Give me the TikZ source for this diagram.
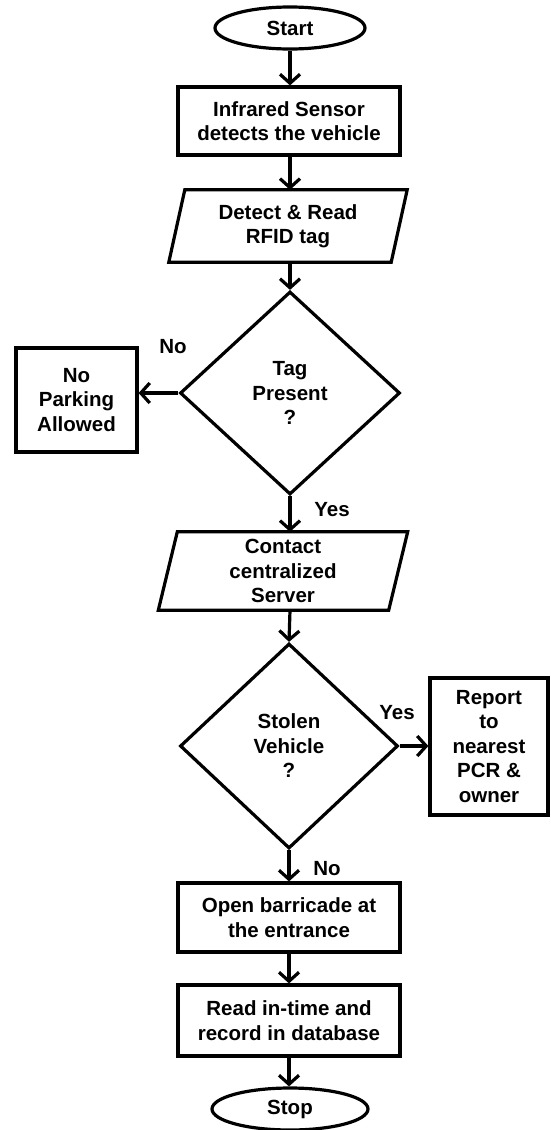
\documentclass[tikz,border=0pt]{standalone}
\usepackage{fontspec}
\setmainfont{Liberation Sans}
\usetikzlibrary{arrows.meta,shapes.geometric}
\begin{document}
\begin{tikzpicture}[x=1pt,y=-1pt,
  every node/.style={font=\bfseries\fontsize{20.5}{24.5}\selectfont, align=center, inner sep=0pt},
  lw/.style={line width=3.2pt},
  procbox/.style={draw, lw, rectangle, minimum width=#1},
  termbox/.style={draw, lw, ellipse, minimum height=42pt},
  decbox/.style={draw, lw, diamond},
  iobox/.style={rectangle, minimum width=#1},
  arr/.style={lw, -{Straight Barb[length=9pt,width=20pt,line width=3.2pt]}},
  lbl/.style={}
]
\useasboundingbox (0,0) rectangle (551,1130);

\node[termbox, minimum width=150pt] (start) at (290,28) {Start};
\node[procbox=222pt, minimum height=68pt] (sensor) at (289,121) {Infrared Sensor\\detects the vehicle};
\node[iobox=222pt, minimum height=72pt] (rfid) at (288,226) {Detect \& Read\\RFID tag};
\draw[lw, line join=miter] ([xshift=8pt]rfid.north west) -- ([xshift=8pt]rfid.north east)
  -- ([xshift=-8pt]rfid.south east) -- ([xshift=-8pt]rfid.south west) -- cycle;
\node[decbox, minimum width=220pt, minimum height=203pt] (tag) at (290,393) {Tag\\Present\\?};
\node[procbox=121pt, minimum height=104pt] (nopark) at (76.5,400) {No\\Parking\\Allowed};
\node[iobox=230pt, minimum height=78pt] (server) at (283,571) {Contact\\centralized\\Server};
\draw[lw, line join=miter] ([xshift=9.5pt]server.north west) -- ([xshift=9.5pt]server.north east)
  -- ([xshift=-9.5pt]server.south east) -- ([xshift=-9.5pt]server.south west) -- cycle;
\node[decbox, minimum width=218pt, minimum height=205pt] (stolen) at (289,746) {Stolen\\Vehicle\\?};
\node[procbox=118pt, minimum height=137pt] (report) at (489,746.5) {Report\\to\\nearest\\PCR \&\\owner};
\node[procbox=222pt, minimum height=69pt] (barricade) at (289,917.5) {Open barricade at\\the entrance};
\node[procbox=222pt, minimum height=71pt] (record) at (289,1020.5) {Read in-time and\\record in database};
\node[termbox, minimum width=156pt] (stop) at (290,1109) {Stop};

\node[lbl] (lno1) at (173,347) {No};
\node[lbl] (lyes1) at (332,510) {Yes};
\node[lbl] (lyes2) at (397,713) {Yes};
\node[lbl] (lno2) at (327,869) {No};

\draw[arr] (start.south) -- (start.south |- sensor.north);
\draw[arr] (sensor.south -| start.south) -- (start.south |- rfid.north);
\draw[arr] (start.south |- rfid.south) -- (tag.north);
\draw[arr] (tag.west) -- (nopark.east |- tag.west);
\draw[arr] (tag.south) -- (tag.south |- server.north);
\draw[arr] (tag.south |- server.south) -- (stolen.north);
\draw[arr] (stolen.east) -- (report.west |- stolen.east);
\draw[arr] (stolen.south) -- (stolen.south |- barricade.north);
\draw[arr] (barricade.south) -- (record.north);
\draw[arr] (record.south) -- (record.south |- stop.north);
\end{tikzpicture}
\end{document}
